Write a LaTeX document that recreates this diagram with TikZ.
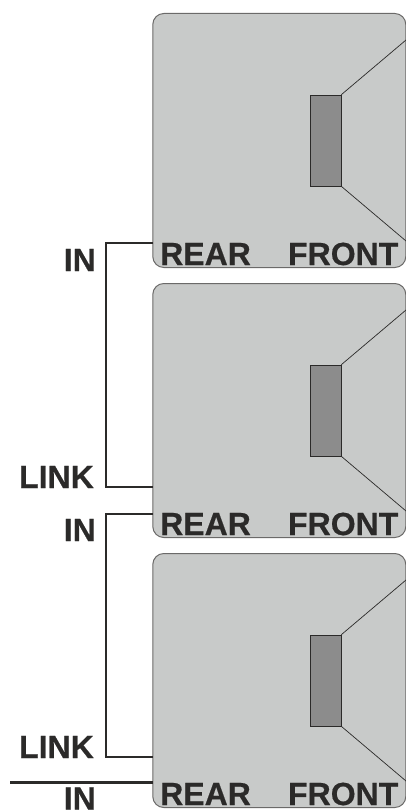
\documentclass[tikz,border=0pt]{standalone}
\usepackage{fontspec}
\setmainfont{Liberation Sans}[BoldFeatures={FakeBold=.5}]
\definecolor{cabinet}{HTML}{C8CAC9}
\definecolor{driver}{HTML}{8C8C8C}
\definecolor{ink}{HTML}{2B2A29}
\tikzset{
  box/.style={draw=ink!70,line width=1pt,fill=cabinet,rounded corners=11pt,minimum width=253pt,minimum height=254pt,inner sep=0pt},
  cone/.style={draw=ink,line width=.7pt,fill=driver,minimum width=31pt,minimum height=91pt,inner sep=0pt},
  lbl/.style={font=\fontsize{32}{32}\selectfont\bfseries,text=ink,inner sep=0pt},
  wire/.style={draw=ink,line width=2.1pt}
}
\begin{document}
\begin{tikzpicture}
  [x=1pt,y=-1pt]
  \useasboundingbox (0,0) rectangle (406,810);

\foreach \n/\y in {a/0,b/270,c/540} {
  \node[box] (box\n) at (279.3,140.5+\y) {};
  \node[cone] (cone\n) at (325.5,140.5+\y) {};
  \coordinate (up\n) at (406,40+\y);
  \coordinate (dn\n) at (406,241+\y);
  \draw[ink,line width=.7pt] (cone\n.north east) -- (up\n);
  \draw[ink,line width=.7pt] (cone\n.south east) -- (dn\n);
  \node[lbl,anchor=base west] (rear\n) at (160,265+\y) {REAR};
  \node[lbl,anchor=base east] (front\n) at (398.5,265+\y) {FRONT};
}

  \coordinate (ina) at (153,243);
  \coordinate (linkb) at (153,487);
  \coordinate (inb) at (153,514);
  \coordinate (linkc) at (153,757);
  \coordinate (inc) at (153,782);
  \coordinate (feed) at (10,782);

  \draw[wire] (ina) -| (106,365) |- (linkb);
  \draw[wire] (inb) -| (106,635) |- (linkc);
  \draw[wire,line width=3pt] (feed) -- (inc);

  \node[lbl,anchor=base east] (lin1) at (96,271) {IN};
  \node[lbl,anchor=base east] (llink1) at (94,488) {LINK};
  \node[lbl,anchor=base east] (lin2) at (96,541) {IN};
  \node[lbl,anchor=base east] (llink2) at (94,758) {LINK};
  \node[lbl,anchor=base east] (lin3) at (96,809.5) {IN};
\end{tikzpicture}
\end{document}
